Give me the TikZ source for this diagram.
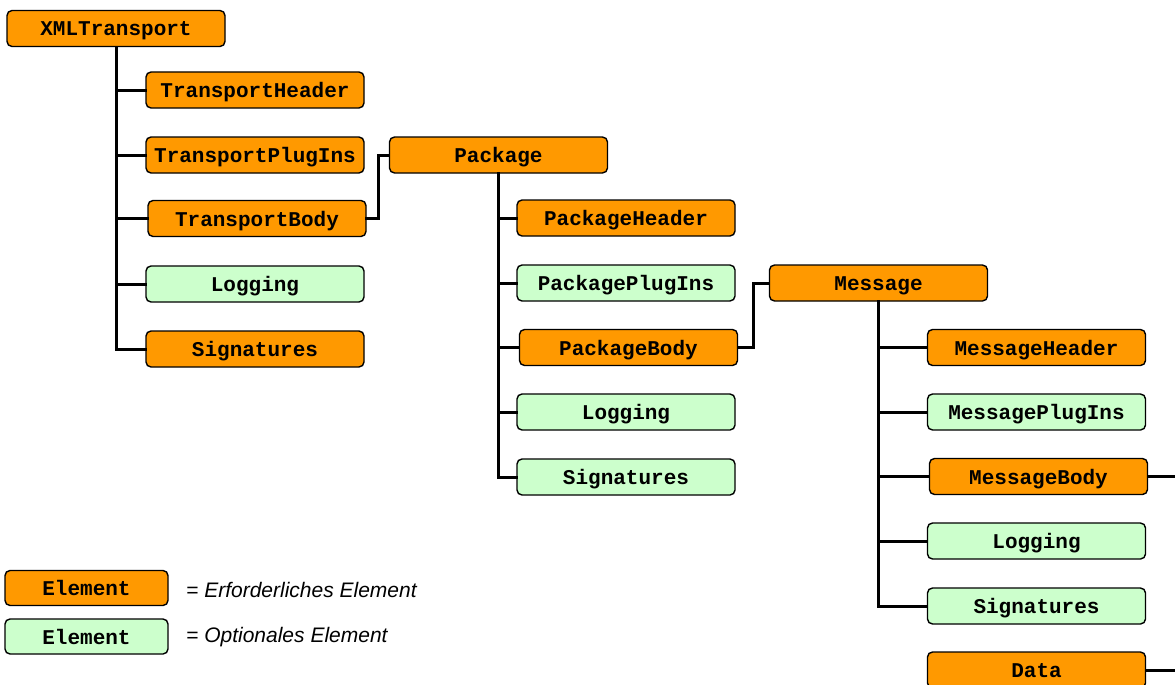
\documentclass[tikz,border=0pt]{standalone}
\usepackage{fontspec}
\setmonofont{Liberation Mono}
\setsansfont{Liberation Sans}
\definecolor{req}{HTML}{FF9900}
\definecolor{opt}{HTML}{CCFFCC}
\begin{document}
\begin{tikzpicture}[x=1pt,y=-1pt,
  elem/.style={draw=black, line width=1.4pt, rounded corners=5pt, minimum width=218pt, minimum height=36pt, inner sep=0pt,
    font=\fontsize{21}{24}\selectfont\ttfamily\bfseries, text height=15pt, text depth=0pt},
  reqbox/.style={elem, fill=req},
  optbox/.style={elem, fill=opt},
  legbox/.style={minimum width=163pt, minimum height=35pt},
  conn/.style={line width=3pt, line cap=rect},
  note/.style={anchor=west, inner sep=0pt, font=\fontsize{21}{24}\selectfont\sffamily\itshape}]
\useasboundingbox (0,0) rectangle (1175,685);
% level 1
\node[reqbox] (xml) at (116,28.5) {XMLTransport};
\node[reqbox] (th) at (255,90) {TransportHeader};
\node[reqbox] (tp) at (255,155) {TransportPlugIns};
\node[reqbox] (tb) at (257,218.5) {TransportBody};
\node[optbox] (tl) at (255,284) {Logging};
\node[reqbox] (ts) at (255,349) {Signatures};
% level 2
\node[reqbox] (pk) at (498.5,155) {Package};
\node[reqbox] (ph) at (626,218) {PackageHeader};
\node[optbox] (pp) at (626,283) {PackagePlugIns};
\node[reqbox] (pb) at (628.5,347.5) {PackageBody};
\node[optbox] (pl) at (626,412) {Logging};
\node[optbox] (ps) at (626,477) {Signatures};
% level 3
\node[reqbox] (ms) at (878.5,283) {Message};
\node[reqbox] (mh) at (1036.5,347.5) {MessageHeader};
\node[optbox] (mp) at (1036.5,412) {MessagePlugIns};
\node[reqbox] (mb) at (1038.5,476.5) {MessageBody};
\node[optbox] (ml) at (1036.5,541) {Logging};
\node[optbox] (mg) at (1036.5,606) {Signatures};
\node[reqbox] (da) at (1036.5,670) {Data};
\coordinate (mbend) at (1180,476.5);
\coordinate (daend) at (1180,670);
% legend
\node[reqbox,legbox] (lr) at (86.5,588) {Element};
\node[optbox,legbox] (lo) at (86.5,636.5) {Element};
\node[note] (lrt) at (186,590) {= Erforderliches Element};
\node[note] (lot) at (186,637) {= Optionales Element};
% connectors level 1
\draw[conn] (xml.south) |- (ts.west);
\draw[conn] (xml.south |- th.west) -- (th.west);
\draw[conn] (xml.south |- tp.west) -- (tp.west);
\draw[conn] (xml.south |- tb.west) -- (tb.west);
\draw[conn] (xml.south |- tl.west) -- (tl.west);
\draw[conn] (tb.east) -- ++(11.5,0) |- (pk.west);
% level 2
\draw[conn] (pk.south) |- (ps.west);
\draw[conn] (pk.south |- ph.west) -- (ph.west);
\draw[conn] (pk.south |- pp.west) -- (pp.west);
\draw[conn] (pk.south |- pb.west) -- (pb.west);
\draw[conn] (pk.south |- pl.west) -- (pl.west);
\draw[conn] (pb.east) -- ++(15,0) |- (ms.west);
% level 3
\draw[conn] (ms.south) |- (mg.west);
\draw[conn] (ms.south |- mh.west) -- (mh.west);
\draw[conn] (ms.south |- mp.west) -- (mp.west);
\draw[conn] (ms.south |- mb.west) -- (mb.west);
\draw[conn] (ms.south |- ml.west) -- (ml.west);
\draw[conn] (mb.east) -- (mbend);
\draw[conn] (da.east) -- (daend);
\end{tikzpicture}
\end{document}
